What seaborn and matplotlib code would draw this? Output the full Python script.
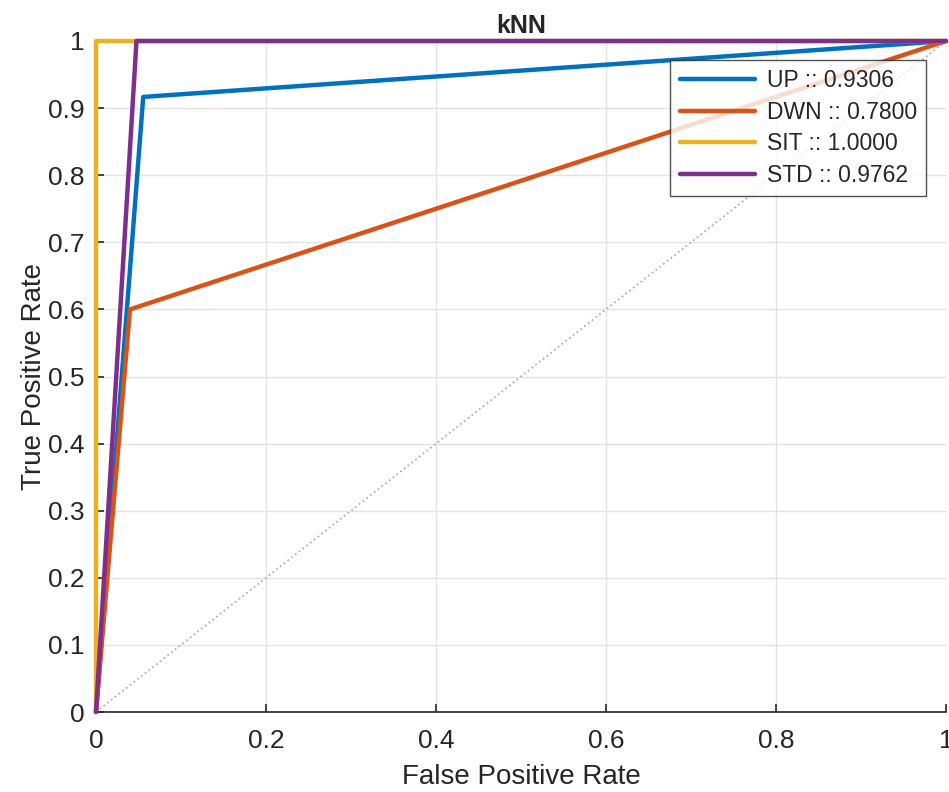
import matplotlib
matplotlib.use("Agg")
import matplotlib.pyplot as plt
import seaborn as sns
import pandas as pd

# ROC points per class (fpr, tpr) and AUC
classes = ["UP", "DWN", "SIT", "STD"]
auc = [0.9306, 0.7800, 1.0000, 0.9762]
fpr = [[0, 1 / 18, 1], [0, 0.04, 1], [0, 0, 1], [0, 1 / 21, 1]]
tpr = [[0, 11 / 12, 1], [0, 0.6, 1], [0, 1, 1], [0, 1, 1]]
colors = ["#0072BD", "#D95319", "#EDB120", "#7E2F8E"]

rows = []
for c, a, fx, ty in zip(classes, auc, fpr, tpr):
    label = f"{c} :: {a:.4f}"
    for i, (x, y) in enumerate(zip(fx, ty)):
        rows.append({"fpr": x, "tpr": y, "cls": label, "order": i})
df = pd.DataFrame(rows)

sns.set_style("whitegrid")
plt.rcParams["font.family"] = ["Liberation Sans", "DejaVu Sans"]

fig = plt.figure(figsize=(9.49, 7.92), dpi=100)
ax = fig.add_axes([96 / 949, 1 - 712 / 792, 850 / 949, 671 / 792])

ax.plot([0, 1], [0, 1], linestyle=":", color="#b0b0b0", linewidth=1.3, zorder=1)
sns.lineplot(data=df, x="fpr", y="tpr", hue="cls", palette=colors,
             sort=False, estimator=None, linewidth=3.2, ax=ax, zorder=3)
for ln in ax.get_lines():
    ln.set_clip_on(False)

ax.set_xlim(0, 1)
ax.set_ylim(0, 1)
ax.set_xticks([0, 0.2, 0.4, 0.6, 0.8, 1])
ax.set_xticklabels(["0", "0.2", "0.4", "0.6", "0.8", "1"])
ax.set_yticks([i / 10 for i in range(11)])
ax.set_yticklabels(["0"] + [f"{i / 10:.1f}" for i in range(1, 10)] + ["1"])
ax.tick_params(axis="both", labelsize=19, colors="#262626", direction="in",
               length=6, width=1.2, left=True, bottom=True)
ax.tick_params(axis="x", pad=12)
ax.tick_params(axis="y", pad=8)
ax.grid(True, color="#e3e3e3", linewidth=1)
for s in ["top", "right"]:
    ax.spines[s].set_visible(False)
for s in ["left", "bottom"]:
    ax.spines[s].set_color("#262626")
    ax.spines[s].set_linewidth(1.2)

ax.set_xlabel("False Positive Rate", fontsize=20, color="#262626", labelpad=8)
ax.set_ylabel("True Positive Rate", fontsize=20, color="#262626", labelpad=1)
ax.set_title("kNN", fontsize=18, fontweight="bold", pad=6)

leg = ax.legend(loc="upper right", bbox_to_anchor=(0.9765, 0.972),
                borderaxespad=0, fontsize=16.5,
                frameon=True, fancybox=False, edgecolor="#262626",
                handlelength=3.3, borderpad=0.4, labelspacing=0.38,
                handletextpad=0.5)
leg.get_frame().set_linewidth(1)
for line in leg.get_lines():
    line.set_linewidth(3.2)

fig.savefig("out.png", dpi=100)
